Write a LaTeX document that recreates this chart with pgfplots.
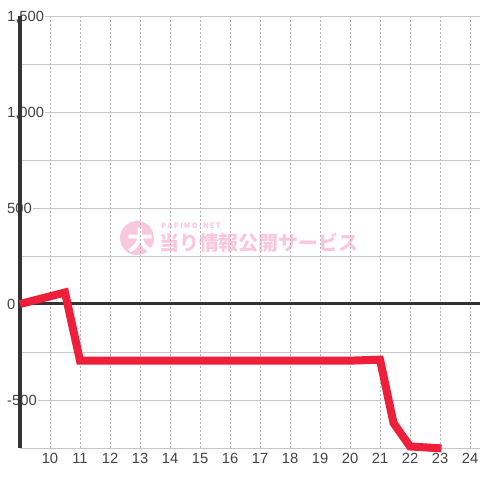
\documentclass[border=0pt]{standalone}
\usepackage{pgfplots}
\pgfplotsset{compat=1.18}
\usepackage{fontspec}
\setmainfont{Liberation Sans}
\newfontfamily\cjk{Noto Sans CJK JP}
\definecolor{linered}{HTML}{EE1F3A}
\definecolor{wm}{HTML}{FAC8DE}
\definecolor{axdark}{HTML}{333333}
\definecolor{tick}{HTML}{444444}
\begin{document}
\begin{tikzpicture}
\path[use as bounding box] (-20bp,-32bp) rectangle (460bp,448bp);
\fill[white] (-20bp,-32bp) rectangle (460bp,448bp);
% watermark
\fill[wm] (117bp,210bp) circle (17bp);
\node[text=white, font=\cjk\bfseries\fontsize{26}{26}\selectfont, inner sep=0pt] at (120bp,207bp) {大};
\node[text=wm, font=\cjk\bfseries\fontsize{7.5}{8}\selectfont, anchor=west, inner sep=0pt] at (141bp,222bp) {P\,A\,P\,I\,M\,O\,-\,N\,E\,T};
\node[text=wm, font=\cjk\bfseries\fontsize{20}{20}\selectfont, anchor=west, inner sep=0pt] at (139bp,205bp) {当り情報公開サービス};
\begin{axis}[
  at={(0,0)}, anchor=south west,
  scale only axis, width=460bp, height=432bp,
  xmin=9, xmax=24.333, ymin=-750, ymax=1500,
  axis line style={draw=none},
  xtick={10,...,24},
  ytick={-500,0,500,1000,1500},
  minor ytick={-750,-250,250,750,1250},
  ymajorgrids, yminorgrids, xmajorgrids,
  major grid style={draw=black!22, line width=0.8pt},
  minor grid style={draw=black!22, line width=0.8pt},
  x grid style={draw=black!30, dash pattern=on 2pt off 2pt, line width=0.6pt},
  extra y ticks={0}, extra y tick labels={},
  extra y tick style={grid=major, major grid style={draw=axdark, solid, line width=3bp}},
  extra x ticks={9}, extra x tick labels={},
  extra x tick style={grid=major, x grid style={draw=axdark, solid, line width=3bp}, major grid style={draw=axdark, solid, line width=3bp}},
  tick style={draw=none},
  xticklabel style={font=\fontsize{14.8}{14.8}\selectfont, text=tick, yshift=-2bp},
  yticklabel style={font=\fontsize{14.8}{14.8}\selectfont, text=tick, anchor=base west, xshift=-14bp, yshift=-5.3bp, fill=white, inner xsep=1pt, inner ysep=1.5pt},
  /pgf/number format/assume math mode=true,
  /pgf/number format/1000 sep={,},
  clip=false,
]
\addplot[line width=8bp, color=linered] coordinates {
(9,0) (10.5,60) (11,-295) (12,-295) (13,-295) (14,-295) (15,-295) (16,-295) (17,-295) (18,-295) (19,-295) (20,-295) (21,-290) (21.45,-620) (22,-742) (23.05,-752)
};
\end{axis}
\end{tikzpicture}
\end{document}
